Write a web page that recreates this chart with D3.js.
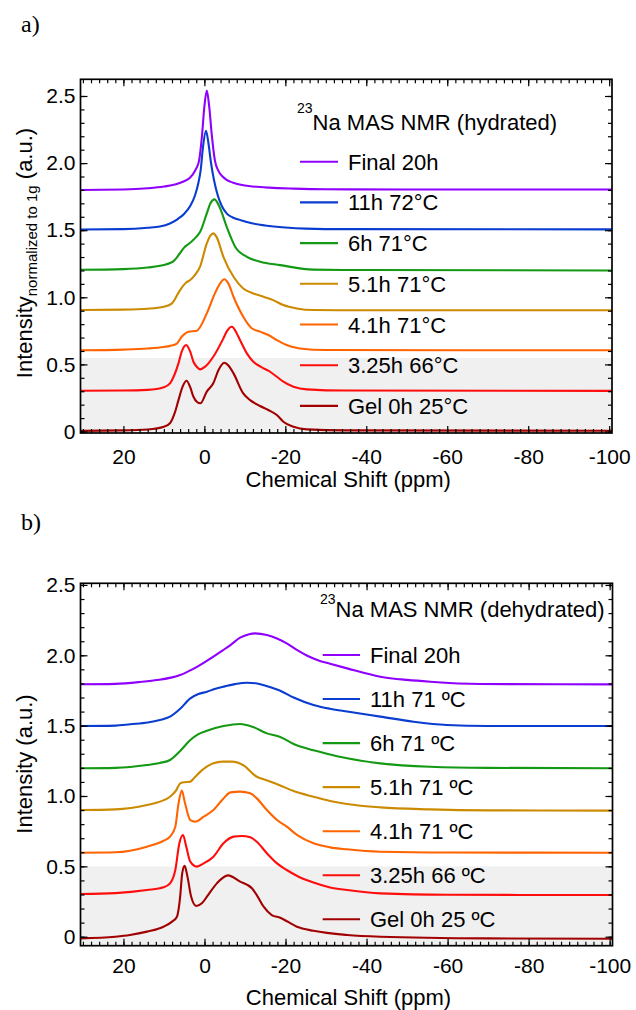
<!DOCTYPE html>
<html><head><meta charset="utf-8">
<script src="https://cdn.jsdelivr.net/npm/d3@7"></script>
<style>body{margin:0;background:#fff}svg{display:block}</style>
</head><body>
<script>
// ---------- DATA ----------
const seriesColors = ["#8f00ff", "#0a3cd0", "#139913", "#cc8a00", "#ff6400", "#ff0d0d", "#a20000"];
const labelsHydrated = ["Final 20h", "11h 72°C", "6h 71°C", "5.1h 71°C", "4.1h 71°C", "3.25h 66°C", "Gel 0h 25°C"];
const labelsDehydrated = ["Final 20h", "11h 71 ºC", "6h 71 ºC", "5.1h 71 ºC", "4.1h 71 ºC", "3.25h 66 ºC", "Gel 0h 25 ºC"];
const xTickValues = [20, 0, -20, -40, -60, -80, -100];
const xTickLabels = ["20", "0", "-20", "-40", "-60", "-80", "-100"];
const yTickValues = [0, 0.5, 1.0, 1.5, 2.0, 2.5];
const yTickLabels = ["0", "0.5", "1.0", "1.5", "2.0", "2.5"];

// panel a: [ppm, intensity]
const hydFinal = [[30.6,1.80],[20,1.803],[14,1.812],[10,1.825],[7,1.843],[5,1.865],[4,1.88],[3,1.91],[2,1.96],[1.3,2.02],[0.6,2.20],[0,2.42],[-0.6,2.54],[-1.2,2.42],[-1.8,2.22],[-2.6,2.02],[-3.5,1.94],[-4.5,1.90],[-5.5,1.875],[-7,1.855],[-9,1.838],[-12,1.826],[-16,1.817],[-22,1.81],[-30,1.805],[-50,1.803],[-100.7,1.803]];
const hyd11h = [[30.6,1.505],[20,1.508],[14,1.518],[11,1.527],[8.5,1.55],[6.5,1.585],[4.9,1.625],[3.5,1.68],[2.3,1.76],[1.5,1.85],[0.9,1.95],[0.3,2.13],[-0.4,2.24],[-1.0,2.15],[-1.6,2.01],[-2.4,1.87],[-3.3,1.76],[-4.3,1.68],[-5.5,1.625],[-7,1.595],[-9,1.575],[-12,1.55],[-15,1.535],[-20,1.52],[-25,1.512],[-35,1.508],[-100.7,1.506]];
const hyd6h = [[30.6,1.205],[20,1.21],[14,1.222],[10,1.24],[8.5,1.255],[7.6,1.27],[6,1.33],[5,1.37],[3.9,1.397],[3,1.42],[2,1.45],[1,1.49],[-0.6,1.625],[-1.5,1.70],[-2.5,1.73],[-3.9,1.663],[-5.5,1.526],[-7.6,1.377],[-10.5,1.302],[-13.8,1.265],[-18.7,1.24],[-26.9,1.206],[-40,1.203],[-100.7,1.20]];
const hyd51h = [[30.6,0.905],[20,0.908],[14,0.915],[10,0.93],[8,0.955],[6,1.054],[4.5,1.11],[3.5,1.129],[2.5,1.16],[1.06,1.228],[-0.6,1.402],[-1.5,1.46],[-2.2,1.476],[-3,1.45],[-4.7,1.302],[-7.2,1.153],[-9.6,1.066],[-12.1,1.029],[-14.6,1.004],[-17,0.979],[-19.5,0.942],[-22.8,0.917],[-27,0.905],[-40,0.903],[-100.7,0.903]];
const hyd41h = [[30.6,0.605],[20,0.61],[14,0.618],[10,0.63],[8.5,0.638],[6.8,0.655],[5.6,0.706],[3.9,0.744],[1.9,0.751],[-0.6,0.88],[-2.6,1.029],[-3.9,1.104],[-4.95,1.134],[-5.9,1.104],[-7.2,1.004],[-9.6,0.855],[-11.7,0.769],[-13.75,0.744],[-15.8,0.719],[-17.9,0.681],[-20.3,0.645],[-23.6,0.619],[-30,0.607],[-100.7,0.605]];
const hyd325h = [[30.6,0.304],[20,0.305],[14,0.31],[10,0.33],[8.5,0.359],[6.4,0.508],[5.6,0.595],[4.5,0.645],[3.5,0.595],[2.7,0.52],[1.9,0.483],[1.06,0.463],[-0.2,0.483],[-2.2,0.557],[-4.7,0.694],[-5.5,0.744],[-6.8,0.781],[-8.0,0.731],[-8.8,0.682],[-10.5,0.582],[-12.1,0.52],[-14.2,0.478],[-15.8,0.453],[-17.9,0.408],[-19.5,0.371],[-22,0.334],[-25.3,0.314],[-35,0.305],[-100.7,0.303]];
const hydGel = [[30.6,0.005],[20,0.008],[14,0.015],[10,0.035],[8.5,0.061],[7.3,0.14],[6.4,0.234],[5.3,0.34],[4.4,0.378],[3.5,0.33],[2.7,0.259],[1.8,0.22],[1.0,0.21],[-0.6,0.297],[-2.2,0.359],[-3.5,0.458],[-4.9,0.512],[-6,0.49],[-7.2,0.433],[-9.6,0.284],[-11.3,0.234],[-13.75,0.19],[-15.8,0.16],[-17.9,0.123],[-19.5,0.073],[-22,0.036],[-25.3,0.016],[-35,0.008],[-100.7,0.006]];

// panel b: [ppm, intensity]
const dehFinal = [[30.6,1.794],[22,1.797],[16,1.81],[11.8,1.824],[8,1.843],[6,1.86],[3,1.90],[0,1.95],[-2.2,1.99],[-4.5,2.035],[-6.4,2.073],[-8.8,2.125],[-11,2.15],[-12.5,2.156],[-15.4,2.144],[-17.9,2.12],[-20.3,2.085],[-23,2.035],[-25.5,1.995],[-28,1.965],[-31,1.94],[-35.2,1.907],[-43.4,1.848],[-50,1.825],[-55.7,1.812],[-68,1.796],[-100.7,1.793]];
const deh11h = [[30.6,1.497],[22,1.50],[18.3,1.51],[14,1.522],[11,1.54],[8.5,1.564],[6,1.62],[3.5,1.694],[1.5,1.725],[-0.6,1.741],[-2.5,1.76],[-4.7,1.777],[-7.5,1.795],[-10.5,1.805],[-13,1.80],[-15.5,1.78],[-18.7,1.748],[-22,1.70],[-26.9,1.647],[-31,1.62],[-35.2,1.60],[-43.4,1.564],[-51.6,1.528],[-59.8,1.505],[-70,1.498],[-100.7,1.497]];
const deh6h = [[30.6,1.197],[22,1.20],[14.2,1.22],[11,1.235],[8.5,1.256],[6,1.32],[3.5,1.398],[1.5,1.44],[-0.6,1.464],[-4.7,1.497],[-8.8,1.512],[-12,1.49],[-15.4,1.445],[-18.7,1.42],[-22,1.37],[-26.9,1.325],[-31,1.295],[-35.2,1.268],[-43.4,1.232],[-55.7,1.208],[-70,1.20],[-100.7,1.197]];
const deh51h = [[30.6,0.90],[22,0.905],[14.2,0.936],[11,0.96],[8.5,0.995],[7,1.04],[6,1.09],[5,1.098],[3.5,1.102],[2.5,1.13],[1,1.173],[-2.2,1.232],[-4.5,1.244],[-6.8,1.244],[-9.5,1.22],[-12.9,1.137],[-15.5,1.11],[-18.7,1.075],[-22,1.035],[-26.9,0.995],[-31,0.965],[-35.2,0.943],[-43.4,0.919],[-55.7,0.905],[-70,0.898],[-100.7,0.896]];
const deh41h = [[30.6,0.597],[22,0.60],[14.2,0.64],[10.1,0.682],[8.5,0.711],[7.2,0.782],[6.4,0.948],[5.6,1.038],[4.8,0.948],[3.5,0.829],[2.3,0.818],[0.2,0.853],[-2.2,0.90],[-4.7,0.983],[-6.4,1.026],[-8.8,1.031],[-11.3,1.019],[-12.9,0.983],[-15.4,0.90],[-17.9,0.829],[-20.3,0.782],[-23,0.72],[-26.9,0.664],[-31,0.635],[-35.2,0.621],[-43.4,0.604],[-60,0.598],[-100.7,0.597]];
const deh325h = [[30.6,0.303],[22,0.31],[14.2,0.332],[10.1,0.351],[8.5,0.379],[7.2,0.474],[6.2,0.664],[5.3,0.723],[4.5,0.64],[3.5,0.533],[1.9,0.498],[0.2,0.521],[-2.2,0.569],[-4.7,0.664],[-7.2,0.711],[-9.2,0.716],[-11.3,0.706],[-12.9,0.675],[-15.4,0.593],[-17.9,0.521],[-20.3,0.474],[-23,0.43],[-26.9,0.385],[-31,0.35],[-35.2,0.332],[-43.4,0.308],[-60,0.298],[-100.7,0.296]];
const dehGel = [[30.6,-0.012],[22,0.0],[18.4,0.012],[14.2,0.036],[10.1,0.071],[8,0.107],[6.8,0.142],[6.0,0.285],[5.5,0.45],[4.9,0.503],[4.2,0.427],[3.3,0.285],[2.05,0.218],[0.65,0.237],[-0.6,0.284],[-3.05,0.379],[-5.8,0.436],[-8.8,0.391],[-11.7,0.344],[-12.9,0.296],[-14.6,0.213],[-16.6,0.154],[-18.7,0.135],[-22.8,0.071],[-26.9,0.042],[-35.2,0.012],[-43.4,0.0],[-70,-0.012],[-100.7,-0.015]];

const hydratedSeries = [hydFinal, hyd11h, hyd6h, hyd51h, hyd41h, hyd325h, hydGel];
const dehydratedSeries = [dehFinal, deh11h, deh6h, deh51h, deh41h, deh325h, dehGel];

// ---------- DRAW ----------
const W = 636, H = 1010;
const svg = d3.select("body").append("svg").attr("width", W).attr("height", H)
  .style("font-family", "'Liberation Sans', Arial, sans-serif");

function drawPanel(cfg) {
  const x = d3.scaleLinear().domain([30.6, -100.7]).range([cfg.left, cfg.right]);
  const y = d3.scaleLinear().domain(cfg.yDomain).range([cfg.bottom, cfg.top]);
  const g = svg.append("g");
  const clipId = "clip" + cfg.id;
  svg.append("defs").append("clipPath").attr("id", clipId)
    .append("rect").attr("x", cfg.left).attr("y", cfg.top)
    .attr("width", cfg.right - cfg.left).attr("height", cfg.bottom - cfg.top);

  g.append("rect").attr("x", cfg.left).attr("y", y(cfg.shadeTop))
    .attr("width", cfg.right - cfg.left).attr("height", cfg.bottom - y(cfg.shadeTop))
    .attr("fill", "#f0f0f0");

  const line = d3.line().x(d => x(d[0])).y(d => y(d[1])).curve(d3.curveMonotoneX);
  const cg = g.append("g").attr("clip-path", `url(#${clipId})`);
  cfg.series.forEach((s, i) => {
    cg.append("path").attr("d", line(s)).attr("fill", "none")
      .attr("stroke", seriesColors[i]).attr("stroke-width", 2.1).attr("stroke-linejoin", "round");
  });

  const minorX = d3.range(30, -101, -2);
  const minorY = d3.range(0, 2.51, 0.1).map(v => +v.toFixed(2));
  const styleAxis = sel => { sel.select(".domain").remove(); sel.selectAll("line").attr("stroke", "#000").attr("stroke-width", 1.2); };
  const tickFont = "'Liberation Sans', Arial, sans-serif";

  const bAx = g.append("g").attr("transform", `translate(0,${cfg.bottom})`);
  bAx.call(d3.axisBottom(x).tickValues(minorX).tickSize(-4).tickFormat("")).call(styleAxis);
  const bMaj = g.append("g").attr("transform", `translate(0,${cfg.bottom})`);
  bMaj.call(d3.axisBottom(x).tickValues(xTickValues).tickSizeInner(-7).tickSizeOuter(0).tickPadding(cfg.xPad)
    .tickFormat((d, i) => xTickLabels[i])).call(styleAxis);
  bMaj.selectAll("text").attr("font-size", 21).attr("fill", "#000").style("font-family", tickFont);
  g.append("g").attr("transform", `translate(0,${cfg.top})`)
    .call(d3.axisTop(x).tickValues(minorX).tickSize(-4).tickFormat("")).call(styleAxis);
  g.append("g").attr("transform", `translate(0,${cfg.top})`)
    .call(d3.axisTop(x).tickValues(xTickValues).tickSize(-7).tickFormat("")).call(styleAxis);
  g.append("g").attr("transform", `translate(${cfg.left},0)`)
    .call(d3.axisLeft(y).tickValues(minorY).tickSize(-4).tickFormat("")).call(styleAxis);
  const lMaj = g.append("g").attr("transform", `translate(${cfg.left},0)`);
  lMaj.call(d3.axisLeft(y).tickValues(yTickValues).tickSizeInner(-7).tickSizeOuter(0).tickPadding(5)
    .tickFormat((d, i) => yTickLabels[i])).call(styleAxis);
  lMaj.selectAll("text").attr("font-size", 21).attr("fill", "#000").style("font-family", tickFont);
  g.append("g").attr("transform", `translate(${cfg.right},0)`)
    .call(d3.axisRight(y).tickValues(minorY).tickSize(-4).tickFormat("")).call(styleAxis);
  g.append("g").attr("transform", `translate(${cfg.right},0)`)
    .call(d3.axisRight(y).tickValues(yTickValues).tickSize(-7).tickFormat("")).call(styleAxis);

  g.append("rect").attr("x", cfg.left).attr("y", cfg.top)
    .attr("width", cfg.right - cfg.left).attr("height", cfg.bottom - cfg.top)
    .attr("fill", "none").attr("stroke", "#000").attr("stroke-width", 1.7);

  g.append("text").attr("x", (cfg.left + cfg.right) / 2 + 2).attr("y", cfg.xTitleY)
    .attr("text-anchor", "middle").attr("font-size", 22).text("Chemical Shift (ppm)");

  const yt = g.append("text").attr("transform", `translate(${cfg.yTitleX},${cfg.yTitleY}) rotate(-90)`)
    .attr("text-anchor", "middle").attr("font-size", 22);
  yt.append("tspan").text("Intensity");
  if (cfg.subscript) {
    yt.append("tspan").attr("font-size", 15).attr("dy", 5).text(cfg.subscript);
    yt.append("tspan").attr("dy", -5).text(" (a.u.)");
  } else {
    yt.append("tspan").text(" (a.u.)");
  }

  const lt = g.append("text").attr("x", cfg.legTitleX).attr("y", cfg.legTitleY).attr("font-size", 22);
  lt.append("tspan").attr("font-size", 14).attr("dy", -17 + cfg.supShift).text("23");
  lt.append("tspan").attr("dy", 17 - cfg.supShift).text("Na MAS NMR (" + cfg.state + ")");

  cfg.labels.forEach((lab, i) => {
    const ly = cfg.legY0 + i * cfg.legDy;
    g.append("line").attr("x1", cfg.legX1).attr("x2", cfg.legX2).attr("y1", ly).attr("y2", ly)
      .attr("stroke", seriesColors[i]).attr("stroke-width", 2.1);
    g.append("text").attr("x", cfg.legTextX).attr("y", ly + 8).attr("font-size", 22).text(lab);
  });

  svg.append("text").attr("x", 21).attr("y", cfg.letterY)
    .style("font-family", "'Liberation Serif', 'Times New Roman', serif")
    .attr("font-size", 24).text(cfg.letter);
}

drawPanel({
  id: "a", left: 80.5, right: 612, top: 79.3, bottom: 433,
  yDomain: [-0.0112, 2.6244], shadeTop: 0.548, series: hydratedSeries, labels: labelsHydrated,
  xPad: 16, xTitleY: 487, yTitleX: 32, yTitleY: 253, subscript: "normalized to 1g",
  legTitleX: 297, legTitleY: 130, supShift: 0, state: "hydrated",
  legY0: 161.7, legDy: 40.7, legX1: 300, legX2: 338, legTextX: 348,
  letter: "a)", letterY: 32
});
drawPanel({
  id: "b", left: 80.5, right: 612.5, top: 583.3, bottom: 945.7,
  yDomain: [-0.064, 2.5117], shadeTop: 0.5, series: dehydratedSeries, labels: labelsDehydrated,
  xPad: 12, xTitleY: 1005, yTitleX: 32, yTitleY: 764, subscript: null,
  legTitleX: 320, legTitleY: 617.3, supShift: 3.5, state: "dehydrated",
  legY0: 655, legDy: 44.05, legX1: 322.7, legX2: 360, legTextX: 370,
  letter: "b)", letterY: 530
});
</script>
</body></html>
